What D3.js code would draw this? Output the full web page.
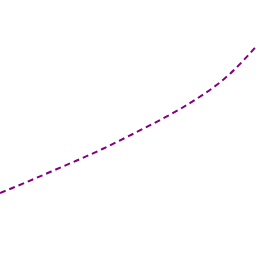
<!DOCTYPE html>
<html><head><meta charset="utf-8">
<script src="https://cdn.jsdelivr.net/npm/d3@7"></script>
<style>html,body{margin:0;padding:0;background:#fff;}svg{display:block;}</style>
</head><body>
<script>
const xValues = [0,1,2,3,4,5,6,7,8,9,10];
const yValues = [2.46,2.87,3.30,3.73,4.18,4.67,5.18,5.72,6.35,7.13,8.18];

const W = 256, H = 256;
const svg = d3.select("body").append("svg").attr("width", W).attr("height", H);
const x = d3.scaleLinear().domain([0,10]).range([0,W]);
const y = d3.scaleLinear().domain([0,10]).range([H,0]);
const data = xValues.map((v,i)=>[v,yValues[i]]);
const line = d3.line().x(d=>x(d[0])).y(d=>y(d[1])).curve(d3.curveNatural);
svg.append("path").datum(data).attr("d", line)
  .attr("fill","none").attr("stroke","#800080").attr("stroke-width",2)
  .attr("stroke-dasharray","6,4");
</script>
</body></html>
